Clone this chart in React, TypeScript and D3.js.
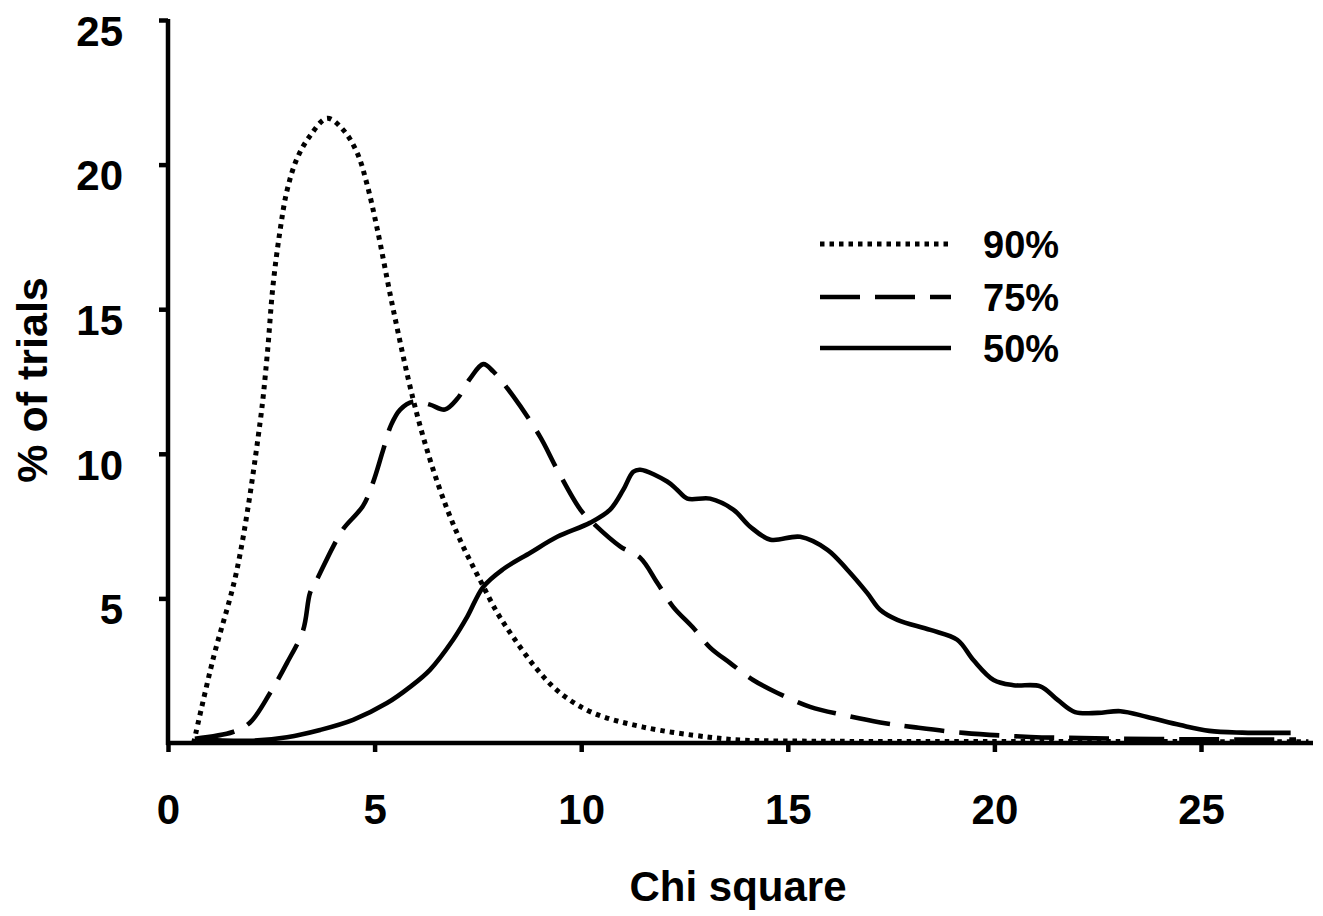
import React, { useEffect, useRef } from "react"
import * as d3 from "d3"

// chi square value, % of trials
const trials90: [number, number][] = [
  [0.62, 0], [1.09, 2.9], [1.67, 6.0], [2.23, 11.1], [2.4, 13.4], [2.54, 15.8],
  [2.71, 17.7], [2.88, 19.1], [3.12, 20.2], [3.44, 21.0], [3.85, 21.6], [4.24, 21.2],
  [4.58, 20.4], [4.82, 19.3], [5.06, 17.8], [5.45, 15.0], [5.93, 11.9],
  [6.34, 9.8], [6.76, 8.07], [7.14, 6.8], [7.55, 5.64], [7.97, 4.5], [8.35, 3.67],
  [8.9, 2.6], [9.49, 1.73], [10.29, 1.04], [11.5, 0.55], [13.1, 0.2], [13.9, 0.1],
  [16, 0.06], [20, 0.05], [24, 0.05], [27.6, 0.04],
]

const trials75: [number, number][] = [
  [0.65, 0.15], [1.57, 0.38], [1.98, 0.7], [2.47, 1.73], [2.88, 2.77], [3.27, 3.9],
  [3.44, 5.2], [3.6, 5.64], [4.0, 6.8], [4.24, 7.4], [4.72, 8.2], [4.96, 9.0],
  [5.2, 10.1], [5.4, 11.0], [5.62, 11.53], [5.93, 11.8], [6.34, 11.7], [6.7, 11.53],
  [7.0, 11.9], [7.31, 12.6], [7.63, 13.1], [7.87, 12.85], [8.35, 12.0], [9.0, 10.6],
  [9.42, 9.45], [9.98, 8.07], [10.29, 7.6], [10.94, 6.8], [11.43, 6.4], [11.84, 5.54],
  [12.23, 4.7], [12.7, 4.0], [13.12, 3.3], [13.6, 2.77], [14.16, 2.18], [14.75, 1.73],
  [15.54, 1.25], [16.34, 0.97], [17.24, 0.71], [18.04, 0.55], [19.25, 0.35],
  [20.87, 0.21], [22.1, 0.17], [24.5, 0.13], [27.3, 0.12],
]

const trials50: [number, number][] = [
  [0.7, 0.12], [2.06, 0.08], [2.88, 0.2], [3.68, 0.45], [4.48, 0.8], [5.3, 1.38],
  [5.86, 1.94], [6.34, 2.53], [6.9, 3.57], [7.24, 4.36], [7.63, 5.4], [8.1, 6.0],
  [8.77, 6.58], [9.42, 7.13], [10.22, 7.62], [10.7, 8.07], [11.02, 8.76], [11.26, 9.38],
  [11.43, 9.45], [12.08, 9.04], [12.32, 8.76], [12.57, 8.45], [13.12, 8.45],
  [13.68, 8.07], [14.09, 7.48], [14.58, 7.03], [15.3, 7.13], [15.96, 6.68],
  [16.44, 5.99], [16.92, 5.19], [17.24, 4.6], [17.65, 4.26], [18.45, 3.91],
  [19.1, 3.57], [19.49, 2.87], [19.98, 2.18], [20.46, 2.0], [21.11, 1.96],
  [21.53, 1.49], [21.95, 1.07], [22.5, 1.04], [23.05, 1.1], [23.7, 0.9],
  [24.5, 0.62], [25.2, 0.42], [26.0, 0.36], [27.17, 0.35],
]

const xTicks = [0, 5, 10, 15, 20, 25]
const yTicks = [5, 10, 15, 20, 25]

const legendLabels = ["90%", "75%", "50%"]
const dashes = ["4.5,5", "40,15", null]

const font = "'Liberation Sans', Arial, sans-serif"

export default function App() {
  const ref = useRef<SVGSVGElement>(null)

  useEffect(() => {
    const svg = d3.select(ref.current)
    svg.selectAll("*").remove()

    const x = d3.scaleLinear().domain([0, 25]).range([168, 1201])
    const y = d3.scaleLinear().domain([0, 25]).range([743, 20])

    const line = d3.line<[number, number]>()
      .x(d => x(d[0]))
      .y(d => y(d[1]))
      .curve(d3.curveCatmullRom.alpha(0.5))

    // curves
    const all = [trials90, trials75, trials50]
    all.forEach((s, i) => {
      svg.append("path")
        .attr("d", line(s))
        .attr("fill", "none")
        .attr("stroke", "#000")
        .attr("stroke-width", i === 0 ? 5 : 4.6)
        .attr("stroke-dasharray", dashes[i])
    })

    // axes
    const xAxis = svg.append("g")
      .attr("transform", "translate(0,743)")
      .call(d3.axisBottom(x).tickValues(xTicks).tickSize(9).tickPadding(42).tickSizeOuter(0))
    xAxis.select(".domain").attr("d", "M166,0H1313").attr("stroke-width", 4.5)

    const yAxis = svg.append("g")
      .attr("transform", "translate(168,0)")
      .call(d3.axisLeft(y).tickValues(yTicks).tickSize(9).tickPadding(36).tickSizeOuter(0))
    yAxis.select(".domain").attr("d", "M0,19V745").attr("stroke-width", 4.5)

    svg.selectAll(".tick line").attr("stroke-width", 4.5)
    svg.selectAll(".tick text")
      .attr("font-family", font)
      .attr("font-weight", "bold")
      .attr("font-size", 42)
      .attr("fill", "#000")
    yAxis.selectAll(".tick text").attr("dy", "0.6em")
    xAxis.selectAll(".tick text").attr("dy", "0.71em")

    // titles
    svg.append("text")
      .attr("x", 738).attr("y", 901)
      .attr("text-anchor", "middle")
      .attr("font-family", font).attr("font-weight", "bold").attr("font-size", 42)
      .text("Chi square")

    svg.append("text")
      .attr("transform", "translate(47,380) rotate(-90)")
      .attr("text-anchor", "middle")
      .attr("font-family", font).attr("font-weight", "bold").attr("font-size", 43)
      .text("% of trials")

    // legend
    const ly = [244, 297, 348]
    legendLabels.forEach((lab, i) => {
      svg.append("line")
        .attr("x1", 820).attr("x2", 951)
        .attr("y1", ly[i]).attr("y2", ly[i])
        .attr("stroke", "#000")
        .attr("stroke-width", i === 0 ? 5 : 4.6)
        .attr("stroke-dasharray", dashes[i])
      svg.append("text")
        .attr("x", 983).attr("y", ly[i] + 14)
        .attr("font-family", font).attr("font-weight", "bold").attr("font-size", 38)
        .text(lab)
    })
  }, [])

  return (
    <svg ref={ref} width={1323} height={916}
      style={{ position: "absolute", left: 0, top: 0, background: "#fff" }} />
  )
}
